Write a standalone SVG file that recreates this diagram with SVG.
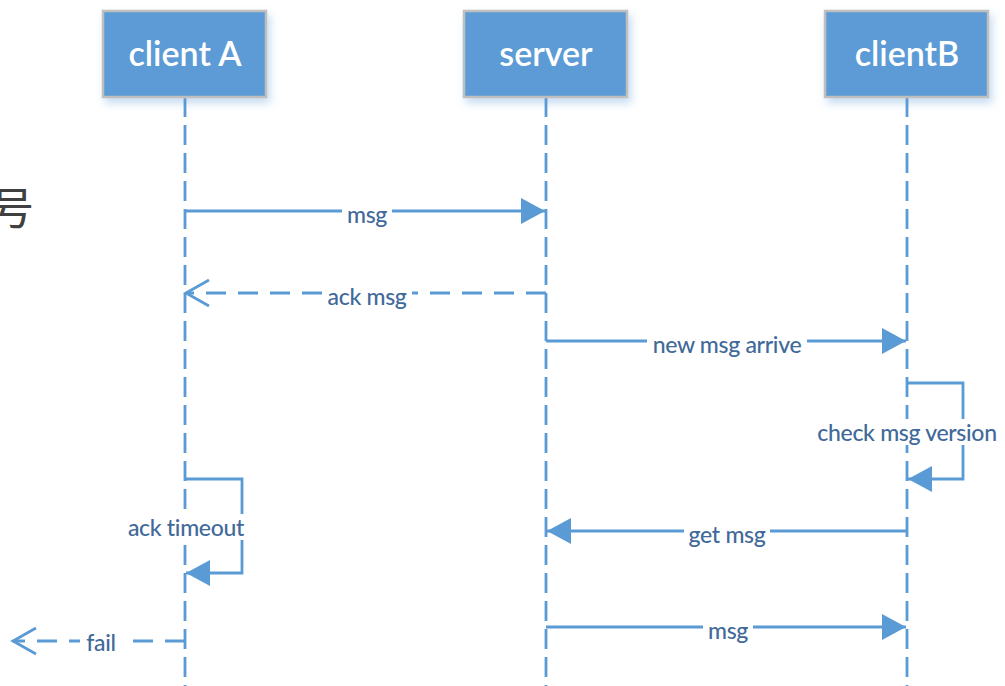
<svg xmlns="http://www.w3.org/2000/svg" width="1005" height="686" viewBox="0 0 1005 686">
  <defs>
    <filter id="shadow" x="-20%" y="-20%" width="140%" height="150%">
      <feGaussianBlur in="SourceAlpha" stdDeviation="4"/>
      <feOffset dx="3" dy="5" result="b"/>
      <feFlood flood-color="#5B9BD5" flood-opacity="0.35"/>
      <feComposite in2="b" operator="in"/>
      <feMerge><feMergeNode/><feMergeNode in="SourceGraphic"/></feMerge>
    </filter>
    <marker id="solid" viewBox="0 0 24 26" refX="24" refY="13" markerWidth="24" markerHeight="26" markerUnits="userSpaceOnUse" orient="auto">
      <path d="M0 0 L24 13 L0 26 Z" fill="#5B9BD5"/>
    </marker>
    <marker id="open" viewBox="0 0 28 32" refX="25" refY="16" markerWidth="28" markerHeight="32" markerUnits="userSpaceOnUse" orient="auto">
      <path d="M2 3 L25 16 L2 29" fill="none" stroke="#5B9BD5" stroke-width="2.8"/>
    </marker>
  </defs>
  <style>
    .box { fill: #5B9BD5; stroke: #BFBFBF; stroke-width: 2.5; }
    .title { font-family: Lato, "Liberation Sans", sans-serif; font-size: 34px; font-weight: 600; fill: #ffffff; text-anchor: middle; }
    .life { stroke: #5B9BD5; stroke-width: 2.8; stroke-dasharray: 20 8; fill: none; }
    .msg { stroke: #5B9BD5; stroke-width: 2.8; fill: none; }
    .ret { stroke: #5B9BD5; stroke-width: 2.8; fill: none; stroke-dasharray: 20 12; }
    .lbl { font-family: Lato, "Liberation Sans", sans-serif; font-size: 23px; font-weight: 500; fill: #41699A; text-anchor: middle; dominant-baseline: central; letter-spacing: -0.3px; }
    .lblbg { fill: #ffffff; }
  </style>

  <rect width="1005" height="686" fill="#ffffff"/>

  <!-- partial character at the left edge -->
  <text x="-10" y="225" font-family="'Noto Sans CJK SC', 'Noto Serif CJK SC', serif" font-size="44" fill="#404040">号</text>

  <!-- lifelines -->
  <g id="lifelines">
    <line class="life" x1="185" y1="97" x2="185" y2="686"/>
    <line class="life" x1="546" y1="97" x2="546" y2="686"/>
    <line class="life" x1="907" y1="97" x2="907" y2="686"/>
  </g>

  <g id="clientA">
    <rect class="box" x="103" y="11" width="163" height="86" filter="url(#shadow)"/>
    <text class="title" x="185" y="66">client A</text>
  </g>
  <g id="server">
    <rect class="box" x="464" y="11" width="163" height="86" filter="url(#shadow)"/>
    <text class="title" x="546" y="66">server</text>
  </g>
  <g id="clientB">
    <rect class="box" x="825" y="11" width="163" height="86" filter="url(#shadow)"/>
    <text class="title" x="907" y="66">clientB</text>
  </g>

  <g id="connectors">
    <!-- msg: A -> server -->
    <line class="msg" x1="185" y1="211" x2="545" y2="211" marker-end="url(#solid)"/>
    <rect class="lblbg" x="342" y="200" width="50" height="24"/>
    <text class="lbl" x="367" y="214">msg</text>

    <!-- ack msg: server -> A -->
    <line class="ret" x1="546" y1="293" x2="186" y2="293" marker-end="url(#open)"/>
    <rect class="lblbg" x="322" y="282" width="90" height="24"/>
    <text class="lbl" x="367" y="296">ack msg</text>

    <!-- new msg arrive: server -> B -->
    <line class="msg" x1="546" y1="341" x2="906" y2="341" marker-end="url(#solid)"/>
    <rect class="lblbg" x="647" y="330" width="160" height="24"/>
    <text class="lbl" x="727" y="344">new msg arrive</text>

    <!-- check msg version: B self -->
    <path class="msg" d="M907 383 H963 V479 H908" marker-end="url(#solid)"/>
    <rect class="lblbg" x="812" y="419" width="192" height="26"/>
    <text class="lbl" x="907" y="432">check msg version</text>

    <!-- ack timeout: A self -->
    <path class="msg" d="M185 479 H242 V573 H186" marker-end="url(#solid)"/>
    <rect class="lblbg" x="122" y="514" width="128" height="26"/>
    <text class="lbl" x="186" y="527">ack timeout</text>

    <!-- get msg: B -> server -->
    <line class="msg" x1="907" y1="531" x2="547" y2="531" marker-end="url(#solid)"/>
    <rect class="lblbg" x="684" y="520" width="86" height="24"/>
    <text class="lbl" x="727" y="534">get msg</text>

    <!-- msg: server -> B -->
    <line class="msg" x1="546" y1="627" x2="906" y2="627" marker-end="url(#solid)"/>
    <rect class="lblbg" x="703" y="616" width="50" height="24"/>
    <text class="lbl" x="728" y="630">msg</text>

    <!-- fail: A -> out -->
    <line class="ret" x1="185" y1="641" x2="13" y2="641" marker-end="url(#open)"/>
    <rect class="lblbg" x="80" y="630" width="42" height="24"/>
    <text class="lbl" x="101" y="642">fail</text>
  </g>
</svg>
